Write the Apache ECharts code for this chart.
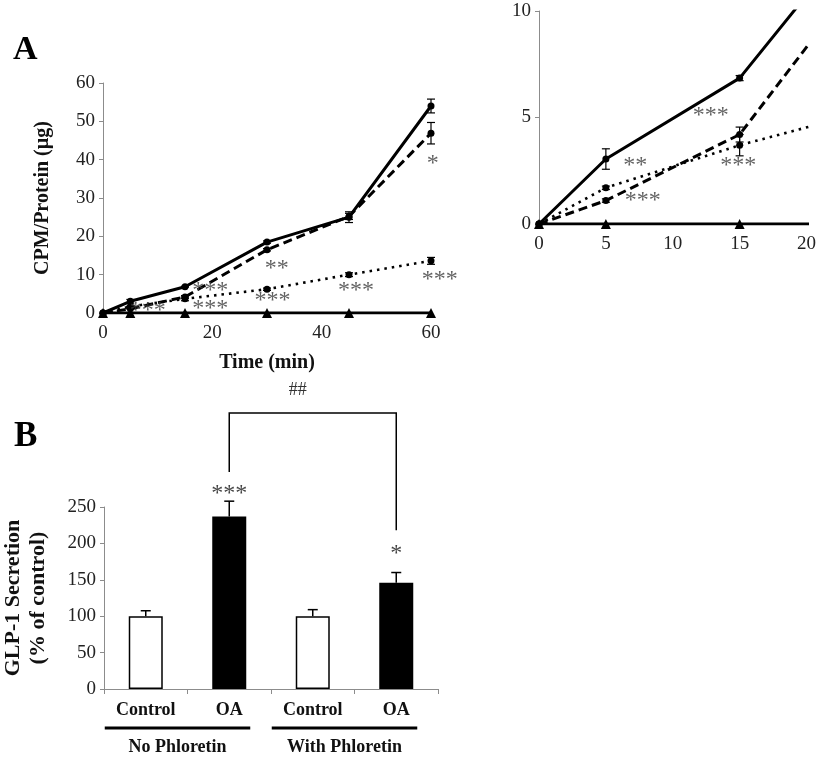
<!DOCTYPE html>
<html>
<head>
<meta charset="utf-8">
<script src="https://cdn.jsdelivr.net/npm/echarts@6/dist/echarts.min.js"></script>
<style>
  html, body { margin: 0; padding: 0; background: #fff; }
  #main { width: 819px; height: 759px; }
</style>
</head>
<body>
<div id="main"></div>
<script>
// panel A: uptake time course (min), same data shown in the inset
const timePoints = [0, 5, 15, 30, 45, 60];
const solidVals  = [0, 3.05, 6.85, 18.5, 25.0, 54.0];
const solidErr   = [0, 0.48, 0.12, 0.3, 1.4, 1.8];
const dashedVals = [0, 1.1, 4.2, 16.5, 25.2, 46.9];
const dashedErr  = [0, 0.08, 0.35, 0.3, 0.8, 2.8];
const dottedVals = [0, 1.7, 3.7, 6.2, 10.0, 13.6];
const dottedErr  = [0, 0.08, 0.5, 0.3, 0.5, 0.9];
const baseVals   = [0, 0, 0, 0, 0, 0];

const starsA = [
  [19.6, 7.3, '***'], [19.6, 2.7, '***'], [8.2, 2.1, '***'],
  [31.8, 13.0, '**'], [31.0, 4.7, '***'], [46.3, 7.3, '***'],
  [61.6, 10.2, '***'], [60.3, 40.4, '*']
];
const starsInset = [
  [12.85, 5.35, '***'], [7.2, 3.04, '**'], [14.9, 3.04, '***'], [7.75, 1.36, '***']
];

// panel B: GLP-1 secretion
const barCats = ['Control', 'OA', 'Control', 'OA'];
const barVals = [100, 237, 100, 146];
const barErr  = [7.5, 21, 9, 14];
const groupNames = ['No Phloretin', 'With Phloretin'];
const starsB = [[1, 277, '***'], [3, 194, '*']];
const bracketB = [1, 298, 379, 3, 218]; // from cat, low, top, to cat, low
const bracketLabel = '##';

const serif = 'Liberation Serif';
const axisGray = '#8c8c8c';

function pairs(xs, ys) {
  return xs.map(function (x, i) { return [x, ys[i]]; });
}

function errTriples(xs, ys, es) {
  return xs.map(function (x, i) { return [x, ys[i], es[i]]; }).filter(function (d) { return d[2] > 0; });
}

function errorSeries(idx, data, cap) {
  return {
    type: 'custom',
    xAxisIndex: idx, yAxisIndex: idx,
    data: data,
    z: 5,
    renderItem: function (params, api) {
      const x = api.value(0), y = api.value(1), e = api.value(2);
      const lo = api.coord([x, y - e]);
      const hi = api.coord([x, y + e]);
      const style = { stroke: '#000', lineWidth: 1.2 };
      return {
        type: 'group',
        children: [
          { type: 'line', shape: { x1: lo[0], y1: lo[1], x2: hi[0], y2: hi[1] }, style: style },
          { type: 'line', shape: { x1: lo[0] - cap, y1: lo[1], x2: lo[0] + cap, y2: lo[1] }, style: style },
          { type: 'line', shape: { x1: hi[0] - cap, y1: hi[1], x2: hi[0] + cap, y2: hi[1] }, style: style }
        ]
      };
    }
  };
}

function starSeries(idx, data, color) {
  return {
    type: 'scatter',
    xAxisIndex: idx, yAxisIndex: idx,
    data: data,
    symbolSize: 1,
    clip: false,
    itemStyle: { color: 'rgba(0,0,0,0)' },
    silent: true,
    z: 6,
    label: {
      show: true, position: 'inside', offset: [0, 6],
      formatter: function (p) { return p.data[2]; },
      fontFamily: serif, fontSize: 24, color: color
    }
  };
}

function lineSeries(idx) {
  const lw = 3;
  return [
    {
      type: 'line', xAxisIndex: idx, yAxisIndex: idx,
      data: pairs(timePoints, solidVals),
      symbol: 'circle', symbolSize: 7,
      lineStyle: { color: '#000', width: lw, type: 'solid' },
      itemStyle: { color: '#000' }
    },
    {
      type: 'line', xAxisIndex: idx, yAxisIndex: idx,
      data: pairs(timePoints, dashedVals),
      symbol: 'circle', symbolSize: 7,
      lineStyle: { color: '#000', width: lw, type: [9, 5] },
      itemStyle: { color: '#000' }
    },
    {
      type: 'line', xAxisIndex: idx, yAxisIndex: idx,
      data: pairs(timePoints, dottedVals),
      symbol: 'circle', symbolSize: 7,
      lineStyle: { color: '#000', width: 2.6, type: [2.5, 5] },
      itemStyle: { color: '#000' }
    },
    {
      type: 'line', xAxisIndex: idx, yAxisIndex: idx,
      data: pairs(timePoints, baseVals),
      symbol: 'triangle', symbolSize: 10,
      lineStyle: { color: '#000', width: lw },
      itemStyle: { color: '#000' }
    },
    errorSeries(idx, errTriples(timePoints, solidVals, solidErr), 4),
    errorSeries(idx, errTriples(timePoints, dashedVals, dashedErr), 4),
    errorSeries(idx, errTriples(timePoints, dottedVals, dottedErr), 4)
  ];
}

const tickLabel = { fontFamily: serif, fontSize: 19, color: '#222' };
const axisLine = { show: true, lineStyle: { color: axisGray, width: 1 } };

const chart = echarts.init(document.getElementById('main'));

const option = {
  animation: false,
  backgroundColor: '#fff',
  grid: [
    { left: 103, top: 83, width: 328, height: 230 },
    { left: 539, top: 11, width: 268, height: 213 },
    { left: 100, top: 507, width: 338, height: 182 }
  ],
  xAxis: [
    {
      gridIndex: 0, type: 'value', min: 0, max: 60, interval: 20,
      name: 'Time (min)', nameLocation: 'middle', nameGap: 40,
      nameTextStyle: { fontFamily: serif, fontSize: 20, fontWeight: 'bold', color: '#111' },
      axisLine: axisLine, axisTick: { show: false },
      splitLine: { show: false },
      axisLabel: Object.assign({ margin: 11 }, tickLabel)
    },
    {
      gridIndex: 1, type: 'value', min: 0, max: 20, interval: 5,
      axisLine: axisLine, axisTick: { show: false },
      splitLine: { show: false },
      axisLabel: Object.assign({ margin: 11 }, tickLabel)
    },
    {
      gridIndex: 2, type: 'category', data: barCats,
      axisLine: axisLine,
      axisTick: { show: true, length: 5, lineStyle: { color: axisGray } },
      axisLabel: { margin: 12, fontFamily: serif, fontSize: 18, fontWeight: 'bold', color: '#111' }
    }
  ],
  yAxis: [
    {
      gridIndex: 0, type: 'value', min: 0, max: 60, interval: 10,
      name: 'CPM/Protein (µg)', nameLocation: 'middle', nameGap: 50, nameRotate: 90,
      nameTextStyle: { fontFamily: serif, fontSize: 20, fontWeight: 'bold', color: '#111' },
      axisLine: axisLine,
      axisTick: { show: true, length: 4, lineStyle: { color: axisGray } },
      splitLine: { show: false },
      axisLabel: Object.assign({ margin: 8 }, tickLabel)
    },
    {
      gridIndex: 1, type: 'value', min: 0, max: 10, interval: 5,
      axisLine: axisLine,
      axisTick: { show: true, length: 4, lineStyle: { color: axisGray } },
      splitLine: { show: false },
      axisLabel: Object.assign({ margin: 8 }, tickLabel)
    },
    {
      gridIndex: 2, type: 'value', min: 0, max: 250, interval: 50,
      name: 'GLP-1 Secretion\n(% of control)', nameLocation: 'middle', nameGap: 53, nameRotate: 90,
      nameTextStyle: { fontFamily: serif, fontSize: 22, fontWeight: 'bold', color: '#111', lineHeight: 25 },
      axisLine: axisLine,
      axisTick: { show: true, length: 4, lineStyle: { color: axisGray } },
      splitLine: { show: false },
      axisLabel: Object.assign({ margin: 8 }, tickLabel)
    }
  ],
  series: [].concat(
    lineSeries(0),
    [starSeries(0, starsA, '#3a3a3a')],
    lineSeries(1),
    [starSeries(1, starsInset, '#3a3a3a')],
    [
      {
        type: 'bar', xAxisIndex: 2, yAxisIndex: 2,
        data: barVals.map(function (v, i) {
          const isOA = barCats[i] === 'OA';
          return {
            value: v,
            itemStyle: { color: isOA ? '#000' : '#fff', borderColor: '#000', borderWidth: 1.5 }
          };
        }),
        barWidth: 34
      },
      {
        type: 'custom', xAxisIndex: 2, yAxisIndex: 2,
        data: barVals.map(function (v, i) { return [i, v, barErr[i]]; }),
        z: 5,
        renderItem: function (params, api) {
          const i = api.value(0), v = api.value(1), e = api.value(2);
          const base = api.coord([i, v]);
          const top = api.coord([i, v + e]);
          const style = { stroke: '#000', lineWidth: 1.5 };
          return {
            type: 'group',
            children: [
              { type: 'line', shape: { x1: base[0], y1: base[1], x2: top[0], y2: top[1] }, style: style },
              { type: 'line', shape: { x1: top[0] - 5, y1: top[1], x2: top[0] + 5, y2: top[1] }, style: style }
            ]
          };
        }
      },
      starSeries(2, starsB, '#111')
    ]
  ),
  graphic: [
    { type: 'text', left: 13, top: 33, style: { text: 'A', font: 'bold 34px "Liberation Serif"', fill: '#000' } },
    { type: 'text', left: 14, top: 419, style: { text: 'B', font: 'bold 35px "Liberation Serif"', fill: '#000' } }
  ]
};

chart.setOption(option);

// bracket, group underlines and group names placed from the bar axis scale
(function addPanelBExtras() {
  const px = function (cat, val) { return chart.convertToPixel({ xAxisIndex: 2, yAxisIndex: 2 }, [cat, val]); };
  const extras = [];
  const a = px(bracketB[0], bracketB[1]);
  const aTop = px(bracketB[0], bracketB[2]);
  const b = px(bracketB[3], bracketB[4]);
  const bTop = px(bracketB[3], bracketB[2]);
  extras.push({
    type: 'polyline',
    shape: { points: [a, aTop, bTop, b] },
    style: { stroke: '#000', lineWidth: 1.5, fill: null }
  });
  extras.push({
    type: 'text',
    x: (aTop[0] + bTop[0]) / 2 - 15, y: aTop[1] - 23,
    style: { text: bracketLabel, font: '18px "Liberation Serif"', fill: '#333', align: 'center', verticalAlign: 'middle' }
  });
  const base = px(0, 0)[1];
  groupNames.forEach(function (name, g) {
    const c1 = px(g * 2, 0)[0];
    const c2 = px(g * 2 + 1, 0)[0];
    extras.push({
      type: 'line',
      shape: { x1: c1 - 41, y1: base + 39, x2: c2 + 21, y2: base + 39 },
      style: { stroke: '#000', lineWidth: 3 }
    });
    extras.push({
      type: 'text',
      x: (c1 - 41 + c2 + 21) / 2, y: base + 58,
      style: { text: name, font: 'bold 18px "Liberation Serif"', fill: '#111', align: 'center', verticalAlign: 'middle' }
    });
  });
  chart.setOption({ graphic: option.graphic.concat(extras) });
})();
</script>
</body>
</html>
